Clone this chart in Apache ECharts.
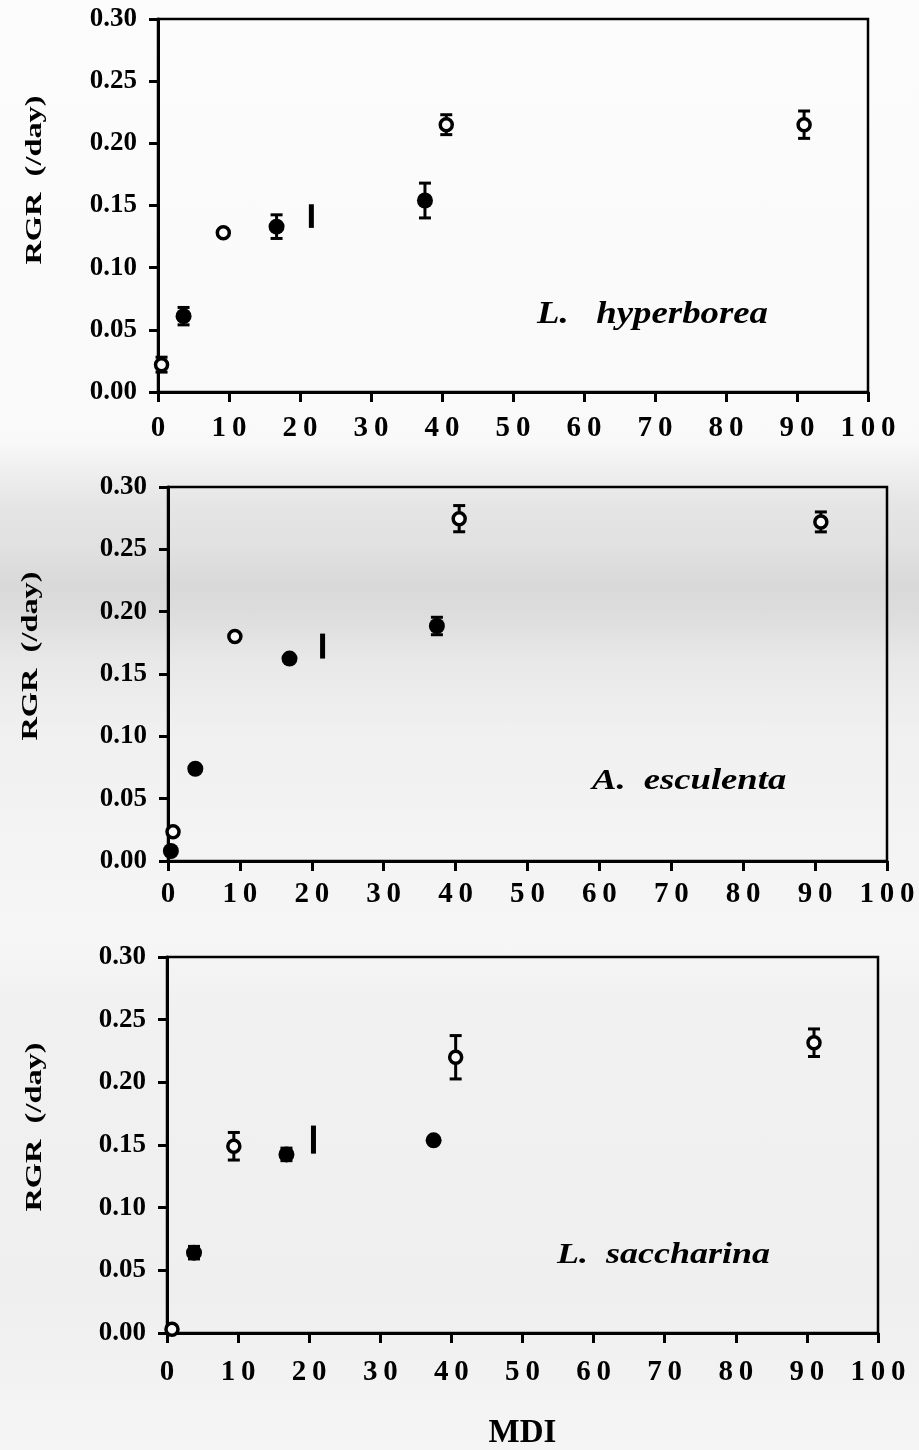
<!DOCTYPE html>
<html>
<head>
<meta charset="utf-8">
<script src="https://cdn.jsdelivr.net/npm/echarts@6/dist/echarts.min.js"></script>
<style>
  html, body { margin: 0; padding: 0; }
  body {
    width: 919px; height: 1450px;
    background: linear-gradient(to bottom,
      #fcfcfc 0px, #f9f9f9 440px, #efefef 470px, #e5e5e5 505px, #e1e1e1 545px,
      #d9d9d9 585px, #dddddd 615px, #e8e8e8 660px, #f0f0f0 730px, #f4f4f4 860px,
      #f6f6f6 940px, #f1f1f1 1000px, #efefef 1300px, #f5f5f5 1450px);
  }
  #chart { width: 919px; height: 1450px; }
</style>
</head>
<body>
<div id="chart"></div>
<script>
// Relative growth rate (RGR, /day) against MDI for three kelp species.
// Open and filled symbols are the two treatment groups; err = half-length of the error bar.

// L. hyperborea
const hypOpenMdi = [0.5, 9.2, 40.6, 91.0];
const hypOpenRgr = [0.022, 0.128, 0.215, 0.215];
const hypOpenErr = [0.006, 0, 0.008, 0.011];
const hypFillMdi = [3.6, 16.7, 37.6];
const hypFillRgr = [0.061, 0.133, 0.154];
const hypFillErr = [0.007, 0.0095, 0.014];
const hypBarMdi = [21.6];
const hypBarRgr = [0.1415];
const hypBarErr = [0.0095];

// A. esculenta
const escOpenMdi = [0.7, 9.3, 40.5, 90.8];
const escOpenRgr = [0.0235, 0.180, 0.2746, 0.272];
const escOpenErr = [0, 0, 0.0105, 0.008];
const escFillMdi = [0.4, 3.8, 16.9, 37.4];
const escFillRgr = [0.008, 0.074, 0.1624, 0.1885];
const escFillErr = [0, 0, 0, 0.007];
const escBarMdi = [21.5];
const escBarRgr = [0.1724];
const escBarErr = [0.0100];

// L. saccharina
const sacOpenMdi = [0.7, 9.4, 40.6, 91.0];
const sacOpenRgr = [0.003, 0.149, 0.220, 0.2316];
const sacOpenErr = [0, 0.011, 0.0173, 0.011];
const sacFillMdi = [3.8, 16.8, 37.5];
const sacFillRgr = [0.0641, 0.1425, 0.1537];
const sacFillErr = [0.005, 0.005, 0];
const sacBarMdi = [20.6];
const sacBarRgr = [0.1543];
const sacBarErr = [0.0112];

// axis ranges and tick steps
const mdiMin = 0, mdiMax = 100, mdiStep = 10;
const rgrMin = 0, rgrMax = 0.30, rgrStep = 0.05;

const speciesNames = ['L.   hyperborea', 'A.  esculenta', 'L.  saccharina'];
const yTitle = 'RGR  (/day)';
const xTitle = 'MDI';

const FONT = 'Liberation Serif';

const panels = [
  { open: [hypOpenMdi, hypOpenRgr, hypOpenErr], fill: [hypFillMdi, hypFillRgr, hypFillErr], bar: [hypBarMdi, hypBarRgr, hypBarErr] },
  { open: [escOpenMdi, escOpenRgr, escOpenErr], fill: [escFillMdi, escFillRgr, escFillErr], bar: [escBarMdi, escBarRgr, escBarErr] },
  { open: [sacOpenMdi, sacOpenRgr, sacOpenErr], fill: [sacFillMdi, sacFillRgr, sacFillErr], bar: [sacBarMdi, sacBarRgr, sacBarErr] }
];

// plot-area boxes of the three stacked panels
const grids = [
  { left: 158, right: 51, top: 19, height: 373, outerBoundsMode: 'none' },
  { left: 168, right: 32, top: 487, height: 374, outerBoundsMode: 'none' },
  { left: 167, right: 41, top: 957, height: 376, outerBoundsMode: 'none' }
];
const xLabelMargin = [22, 19, 25];

function points(set) {
  return set[0].map((x, i) => [x, set[1][i]]);
}
function ranges(set) {
  return set[0].map((x, i) => [x, set[1][i] - set[2][i], set[1][i] + set[2][i]])
    .filter((d) => d[2] > d[1]);
}

function renderCapped(params, api) {
  const x = api.value(0), lo = api.value(1), hi = api.value(2);
  const a = api.coord([x, hi]);
  const b = api.coord([x, lo]);
  const half = 6;
  const style = { stroke: '#000', lineWidth: 3, fill: null };
  return {
    type: 'group',
    children: [
      { type: 'line', shape: { x1: a[0], y1: a[1], x2: b[0], y2: b[1] }, style },
      { type: 'line', shape: { x1: a[0] - half, y1: a[1], x2: a[0] + half, y2: a[1] }, style },
      { type: 'line', shape: { x1: b[0] - half, y1: b[1], x2: b[0] + half, y2: b[1] }, style }
    ]
  };
}
function renderPlain(params, api) {
  const x = api.value(0), lo = api.value(1), hi = api.value(2);
  const a = api.coord([x, hi]);
  const b = api.coord([x, lo]);
  return {
    type: 'line',
    shape: { x1: a[0], y1: a[1], x2: b[0], y2: b[1] },
    style: { stroke: '#000', lineWidth: 5, fill: null }
  };
}

const xAxes = grids.map((g, i) => ({
  gridIndex: i,
  type: 'value',
  min: mdiMin, max: mdiMax, interval: mdiStep,
  name: i === 2 ? xTitle : '',
  nameLocation: 'middle',
  nameGap: 84,
  nameTextStyle: { fontFamily: FONT, fontWeight: 'bold', fontSize: 33, color: '#000' },
  axisLine: { show: true, onZero: false, lineStyle: { color: '#000', width: 3 } },
  axisTick: { show: true, inside: false, length: 10, lineStyle: { color: '#000', width: 3 } },
  axisLabel: {
    margin: xLabelMargin[i],
    fontFamily: FONT, fontWeight: 'bold', fontSize: 29, color: '#000',
    formatter: (v) => String(v).split('').join('\u2009')
  },
  splitLine: { show: false }
}));

const yAxes = grids.map((g, i) => ({
  gridIndex: i,
  type: 'value',
  min: rgrMin, max: rgrMax, interval: rgrStep,
  axisLine: { show: true, onZero: false, lineStyle: { color: '#000', width: 3 } },
  axisTick: { show: true, inside: false, length: 9, lineStyle: { color: '#000', width: 3 } },
  axisLabel: {
    margin: 21,
    fontFamily: FONT, fontWeight: 'bold', fontSize: 27, color: '#000',
    formatter: (v) => v.toFixed(2)
  },
  splitLine: { show: false }
}));

const series = [];
panels.forEach((p, i) => {
  series.push({
    type: 'custom', name: 'err', xAxisIndex: i, yAxisIndex: i, z: 1,
    renderItem: renderCapped, clip: false,
    encode: { x: 0, y: [1, 2] },
    data: ranges(p.open).concat(ranges(p.fill))
  });
  series.push({
    type: 'custom', name: 'range', xAxisIndex: i, yAxisIndex: i, z: 1,
    renderItem: renderPlain, clip: false,
    encode: { x: 0, y: [1, 2] },
    data: ranges(p.bar)
  });
  series.push({
    type: 'scatter', name: 'filled', xAxisIndex: i, yAxisIndex: i, z: 3, clip: false,
    symbol: 'circle', symbolSize: 16,
    itemStyle: { color: '#000', opacity: 1 },
    data: points(p.fill)
  });
  series.push({
    type: 'scatter', name: 'open', xAxisIndex: i, yAxisIndex: i, z: 4, clip: false,
    symbol: 'circle', symbolSize: 12,
    itemStyle: { color: '#fafafa', borderColor: '#000', borderWidth: 3.5, opacity: 1 },
    data: points(p.open)
  });
});

const titleCentres = [[35, 180], [31, 656], [35, 1127]];
const labelAnchors = [[537, 314.5, 32, 1.15], [592, 781.5, 30, 1.22], [557, 1255, 30, 1.2]];

const graphic = [];
titleCentres.forEach((c) => {
  graphic.push({
    type: 'text', x: c[0], y: c[1], rotation: Math.PI / 2, scaleX: 1.35,
    style: {
      text: yTitle, fill: '#000', fontFamily: FONT, fontWeight: 'bold', fontSize: 24,
      align: 'center', verticalAlign: 'middle'
    }
  });
});
labelAnchors.forEach((a, i) => {
  graphic.push({
    type: 'text', x: a[0], y: a[1], scaleX: a[3],
    style: {
      text: speciesNames[i], fill: '#000', fontFamily: FONT, fontWeight: 'bold',
      fontStyle: 'italic', fontSize: a[2], align: 'left', verticalAlign: 'middle'
    }
  });
});

const chart = echarts.init(document.getElementById('chart'), null, { renderer: 'canvas' });
chart.setOption({
  backgroundColor: 'transparent',
  animation: false,
  grid: grids.map((g) => Object.assign({ show: true, borderColor: '#000', borderWidth: 2.5, backgroundColor: 'transparent' }, g)),
  xAxis: xAxes,
  yAxis: yAxes,
  series: series,
  graphic: graphic
});
</script>
</body>
</html>
